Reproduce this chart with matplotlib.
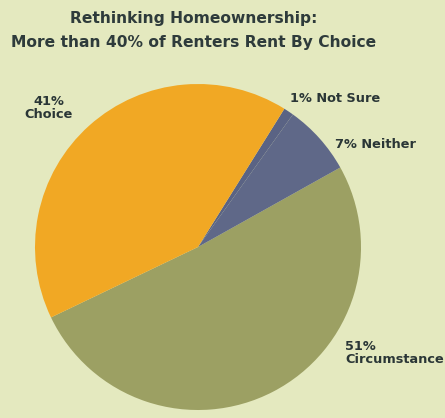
import matplotlib
matplotlib.use("Agg")
import matplotlib.pyplot as plt

labels = ["Circumstance", "Neither", "Not Sure", "Choice"]
values = [51, 7, 1, 41]
colors = ["#9CA063", "#5F6888", "#5A6384", "#F1A824"]

bg = "#E4E9BF"
W, H = 445, 418
fig = plt.figure(figsize=(W / 100, H / 100), dpi=100, facecolor=bg)

cx, cy, r = 198, 247, 163
ax = fig.add_axes([(cx - r) / W, (H - cy - r) / H, 2 * r / W, 2 * r / H])
ax.set_facecolor(bg)
ax.pie(values, colors=colors, startangle=-154.4, counterclock=True,
       radius=1, wedgeprops=dict(linewidth=0))
ax.set_xlim(-1, 1)
ax.set_ylim(-1, 1)
ax.set_aspect("equal")
ax.axis("off")

tc = "#2E3B3B"
fig.text(194 / W, 1 - 19 / H, "Rethinking Homeownership:", ha="center", va="center",
         fontsize=11.2, fontweight="bold", color=tc)
fig.text(194 / W, 1 - 43 / H, "More than 40% of Renters Rent By Choice", ha="center", va="center",
         fontsize=11.2, fontweight="bold", color=tc)

lc = "#2A3636"
fs = 9.3
fig.text(49 / W, 1 - 108 / H, f"{values[3]}%\n{labels[3]}", ha="center", va="center",
         fontsize=fs, color=lc, linespacing=1.0, fontweight="bold")
fig.text(290 / W, 1 - 98 / H, f"{values[2]}% {labels[2]}", ha="left", va="center",
         fontsize=fs, color=lc, fontweight="bold")
fig.text(335 / W, 1 - 144 / H, f"{values[1]}% {labels[1]}", ha="left", va="center",
         fontsize=fs, color=lc, fontweight="bold")
fig.text(345 / W, 1 - 353 / H, f"{values[0]}%\n{labels[0]}", ha="left", va="center",
         fontsize=fs, color=lc, linespacing=1.0, fontweight="bold")

fig.savefig("out.png", dpi=100, facecolor=bg)
